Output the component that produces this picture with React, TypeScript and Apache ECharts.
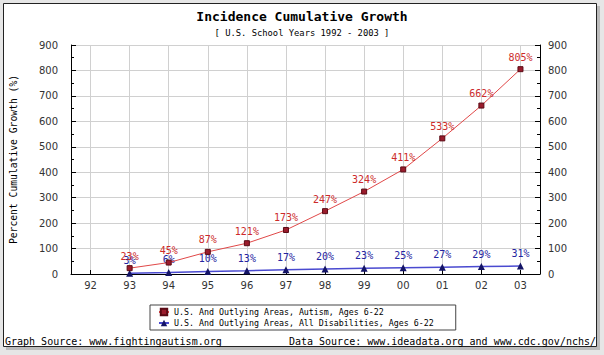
import React, { useEffect, useRef } from "react";
import * as echarts from "echarts";

const years = ["92", "93", "94", "95", "96", "97", "98", "99", "00", "01", "02", "03"];
const autism = [null, 23, 45, 87, 121, 173, 247, 324, 411, 533, 662, 805];
const allDisabilities = [null, 3, 6, 10, 13, 17, 20, 23, 25, 27, 29, 31];
const seriesNames = [
  "U.S. And Outlying Areas, Autism, Ages 6-22",
  "U.S. And Outlying Areas, All Disabilities, Ages 6-22",
];
const titleText = "Incidence Cumulative Growth";
const subtitleText = "[ U.S. School Years 1992 - 2003 ]";
const yName = "Percent Cumulative Growth (%)";
const footerLeft = "Graph Source: www.fightingautism.org";
const footerRight = "Data Source: www.ideadata.org and www.cdc.gov/nchs/";

const MONO = "DejaVu Sans Mono";
const SANS = "DejaVu Sans";
const GRID = "#d0d0d0";

export default function App() {
  const ref = useRef<HTMLDivElement>(null);
  useEffect(() => {
    if (!ref.current) return;
    const chart = echarts.init(ref.current, undefined, { renderer: "svg" });
    const yAxisCommon = {
      type: "value",
      min: 0,
      max: 900,
      interval: 100,
      axisLine: { show: true, lineStyle: { color: "#000", width: 1 } },
      axisTick: { show: true, inside: true, length: 5, lineStyle: { color: "#000" } },
      minorTick: { show: true, splitNumber: 2, length: 3, lineStyle: { color: "#000" } },
      axisLabel: { fontFamily: SANS, fontSize: 10, color: "#333" },
    };
    chart.setOption({
      animation: false,
      backgroundColor: "#e6e6e6",
      title: {
        text: titleText,
        subtext: subtitleText,
        left: "center",
        top: 5,
        itemGap: 5,
        textStyle: { fontFamily: MONO, fontSize: 13, fontWeight: "bold", color: "#000" },
        subtextStyle: { fontFamily: MONO, fontSize: 8.8, color: "#000" },
      },
      graphic: [
        { type: "rect", shape: { x: 6, y: 6, width: 594, height: 344 }, style: { fill: "#bbbbbb" }, z: -10 },
        { type: "rect", shape: { x: 3.5, y: 3.5, width: 593, height: 343 }, style: { fill: "#fff", stroke: "#222", lineWidth: 1 }, z: -9 },
        { type: "text", left: 5, top: 336, style: { text: footerLeft, font: `10px '${MONO}'`, fill: "#000" } },
        { type: "text", right: 8, top: 336, style: { text: footerRight, font: `10px '${MONO}'`, fill: "#000" } },
      ],
      legend: {
        orient: "vertical",
        left: 150,
        top: 305,
        padding: [2, 22, 2, 8],
        itemGap: 1,
        itemWidth: 10,
        itemHeight: 8,
        borderColor: "#444",
        borderWidth: 1,
        backgroundColor: "#fff",
        textStyle: { fontFamily: MONO, fontSize: 8.3, color: "#000", lineHeight: 10 },
        data: seriesNames,
      },
      grid: { left: 70, right: 64, top: 45, bottom: 81, containLabel: false },
      xAxis: {
        type: "category",
        data: years,
        boundaryGap: true,
        axisLine: { show: true, lineStyle: { color: "#000", width: 1 } },
        axisTick: { show: true, inside: true, alignWithLabel: true, length: 4, lineStyle: { color: "#000" } },
        axisLabel: { fontFamily: SANS, fontSize: 10, color: "#333", margin: 6 },
        splitLine: { show: true, alignWithLabel: true, lineStyle: { color: GRID, width: 1 } },
      },
      yAxis: [
        {
          ...yAxisCommon,
          position: "left",
          name: yName,
          nameLocation: "middle",
          nameRotate: 90,
          nameGap: 53,
          nameTextStyle: { fontFamily: MONO, fontSize: 9.7, color: "#000" },
          axisLabel: { ...yAxisCommon.axisLabel, margin: 13 },
          splitLine: { show: true, lineStyle: { color: GRID, width: 1 } },
        },
        {
          ...yAxisCommon,
          position: "right",
          axisLabel: { ...yAxisCommon.axisLabel, margin: 8 },
          splitLine: { show: false },
        },
      ],
      series: [
        {
          name: seriesNames[0],
          type: "line",
          data: autism,
          yAxisIndex: 0,
          symbol: "rect",
          symbolSize: 5,
          z: 3,
          lineStyle: { color: "#e04848", width: 1 },
          itemStyle: { color: "#9a1c2c", borderColor: "#5a0a14", borderWidth: 1 },
          label: {
            show: true,
            position: "top",
            distance: 4,
            formatter: "{c}%",
            fontFamily: MONO,
            fontSize: 10,
            color: "#cc2a2a",
          },
        },
        {
          name: seriesNames[1],
          type: "line",
          data: allDisabilities,
          yAxisIndex: 0,
          symbol: "triangle",
          symbolSize: 7,
          z: 2,
          lineStyle: { color: "#4a4ad0", width: 1.5 },
          itemStyle: { color: "#141466" },
          label: {
            show: true,
            position: "top",
            distance: 4,
            formatter: "{c}%",
            fontFamily: MONO,
            fontSize: 10,
            color: "#2424a0",
          },
        },
      ],
    });
    return () => chart.dispose();
  }, []);
  return (
    <div
      ref={ref}
      style={{ position: "fixed", left: 0, top: 0, width: 604, height: 355 }}
    />
  );
}
